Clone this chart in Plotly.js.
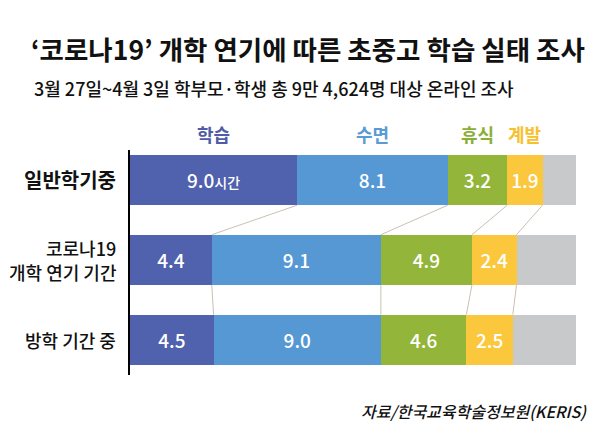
<!DOCTYPE html>
<html><head><meta charset="utf-8">
<script src="https://cdn.plot.ly/plotly-3.0.1.min.js"></script>
<style>body{margin:0;background:#fff}#chart{width:600px;height:436px}</style>
</head><body><div id="chart"></div>
<script>
const categories = ['일반학기중', '코로나19 개학 연기 기간', '방학 기간 중'];
const categoryLines = [['일반학기중'], ['코로나19', '개학 연기 기간'], ['방학 기간 중']];
const seriesNames = ['학습', '수면', '휴식', '계발'];
const study = [9.0, 4.4, 4.5];
const sleep = [8.1, 9.1, 9.0];
const rest = [3.2, 4.9, 4.6];
const develop = [1.9, 2.4, 2.5];
const totalHours = 24;
const other = categories.map((c, i) => +(totalHours - study[i] - sleep[i] - rest[i] - develop[i]).toFixed(2));

const colors = ['#5061AE', '#5598D4', '#92B53A', '#FBC73C', '#C8C9CB'];
const labelColors = ['#4F5BA8', '#5A9BD5', '#8AAE36', '#F6C12E'];
const FONT = '"Noto Sans CJK KR", "Noto Sans", sans-serif';
const BW = 0.63;
const yIdx = categories.map((c, i) => i);
const series = [study, sleep, rest, develop, other];

const traces = series.map((vals, s) => ({
  type: 'bar', orientation: 'h', x: vals, y: yIdx, width: BW,
  marker: {color: colors[s], line: {width: 0}},
  text: s === 4 ? vals.map(() => '') : vals.map((v, i) => (s === 0 && i === 0)
      ? v.toFixed(1) + '<span style="font-size:14px">시간</span>' : v.toFixed(1)),
  textposition: 'inside', insidetextanchor: 'middle', textangle: 0,
  constraintext: 'none',
  textfont: {color: '#ffffff', size: 19, family: FONT, weight: 500},
  hoverinfo: 'skip', showlegend: false
}));

// connector lines between segment boundaries of consecutive bars
const cum = categories.map((c, i) => {
  let acc = 0; return series.slice(0, 4).map(v => (acc += v[i]));
});
for (let i = 0; i < categories.length - 1; i++) {
  for (let s = 0; s < 4; s++) {
    traces.push({
      type: 'scatter', mode: 'lines',
      x: [cum[i][s], cum[i + 1][s]], y: [i + BW / 2, i + 1 - BW / 2],
      line: {color: '#C9C1B3', width: 1}, hoverinfo: 'skip', showlegend: false
    });
  }
}

const annotations = seriesNames.map((n, s) => {
  const start = s === 0 ? 0 : cum[0][s - 1];
  return {
    x: (start + cum[0][s]) / 2, y: -BW / 2, xref: 'x', yref: 'y',
    text: '<b>' + n + '</b>', showarrow: false, yanchor: 'bottom', yshift: 6,
    font: {size: 18, color: labelColors[s], family: FONT}
  };
});
// category labels (one annotation per line)
categoryLines.forEach((lines, i) => {
  lines.forEach((ln, j) => {
    const off = (j - (lines.length - 1) / 2) * 24;
    annotations.push({
      x: 0, y: i, xref: 'paper', yref: 'y', xanchor: 'right', yanchor: 'middle',
      xshift: -12, yshift: -off, showarrow: false,
      text: i === 0 ? '<b>' + ln + '</b>' : ln,
      font: {size: i === 0 ? 20 : 18, color: '#111', family: FONT, weight: i === 0 ? 700 : 500}
    });
  });
});
annotations.push({
  text: '<b>‘코로나19’ 개학 연기에 따른 초중고 학습 실태 조사</b>',
  xref: 'paper', yref: 'paper', x: -0.226, y: 1, yanchor: 'middle', xanchor: 'left',
  yshift: 102, showarrow: false, font: {size: 26.5, color: '#111', family: FONT}
});
annotations.push({
  text: '3월 27일~4월 3일 학부모·학생 총 9만 4,624명 대상 온라인 조사',
  xref: 'paper', yref: 'paper', x: -0.219, y: 1, yanchor: 'middle', xanchor: 'left',
  yshift: 62, showarrow: false, font: {size: 18, color: '#111', family: FONT, weight: 500}
});
annotations.push({
  text: '<i>자료/한국교육학술정보원(KERIS)</i>',
  xref: 'paper', yref: 'paper', x: 1.03, y: 0, yanchor: 'middle', xanchor: 'right',
  yshift: -36, showarrow: false, font: {size: 16, color: '#111', family: FONT, weight: 500}
});

const layout = {
  width: 600, height: 436, barmode: 'stack',
  margin: {l: 130, r: 24, t: 150, b: 61},
  paper_bgcolor: '#fff', plot_bgcolor: '#fff',
  font: {family: FONT},
  xaxis: {range: [0, totalHours], visible: false, fixedrange: true},
  yaxis: {
    range: [2.44, -0.375], tickvals: yIdx, ticktext: categories.map(() => ''),
    showline: true, linecolor: '#000', linewidth: 2, showgrid: false, zeroline: false,
    ticks: ''
  },
  annotations: annotations,
  showlegend: false
};
Plotly.newPlot('chart', traces, layout, {displayModeBar: false, staticPlot: true});
</script></body></html>
